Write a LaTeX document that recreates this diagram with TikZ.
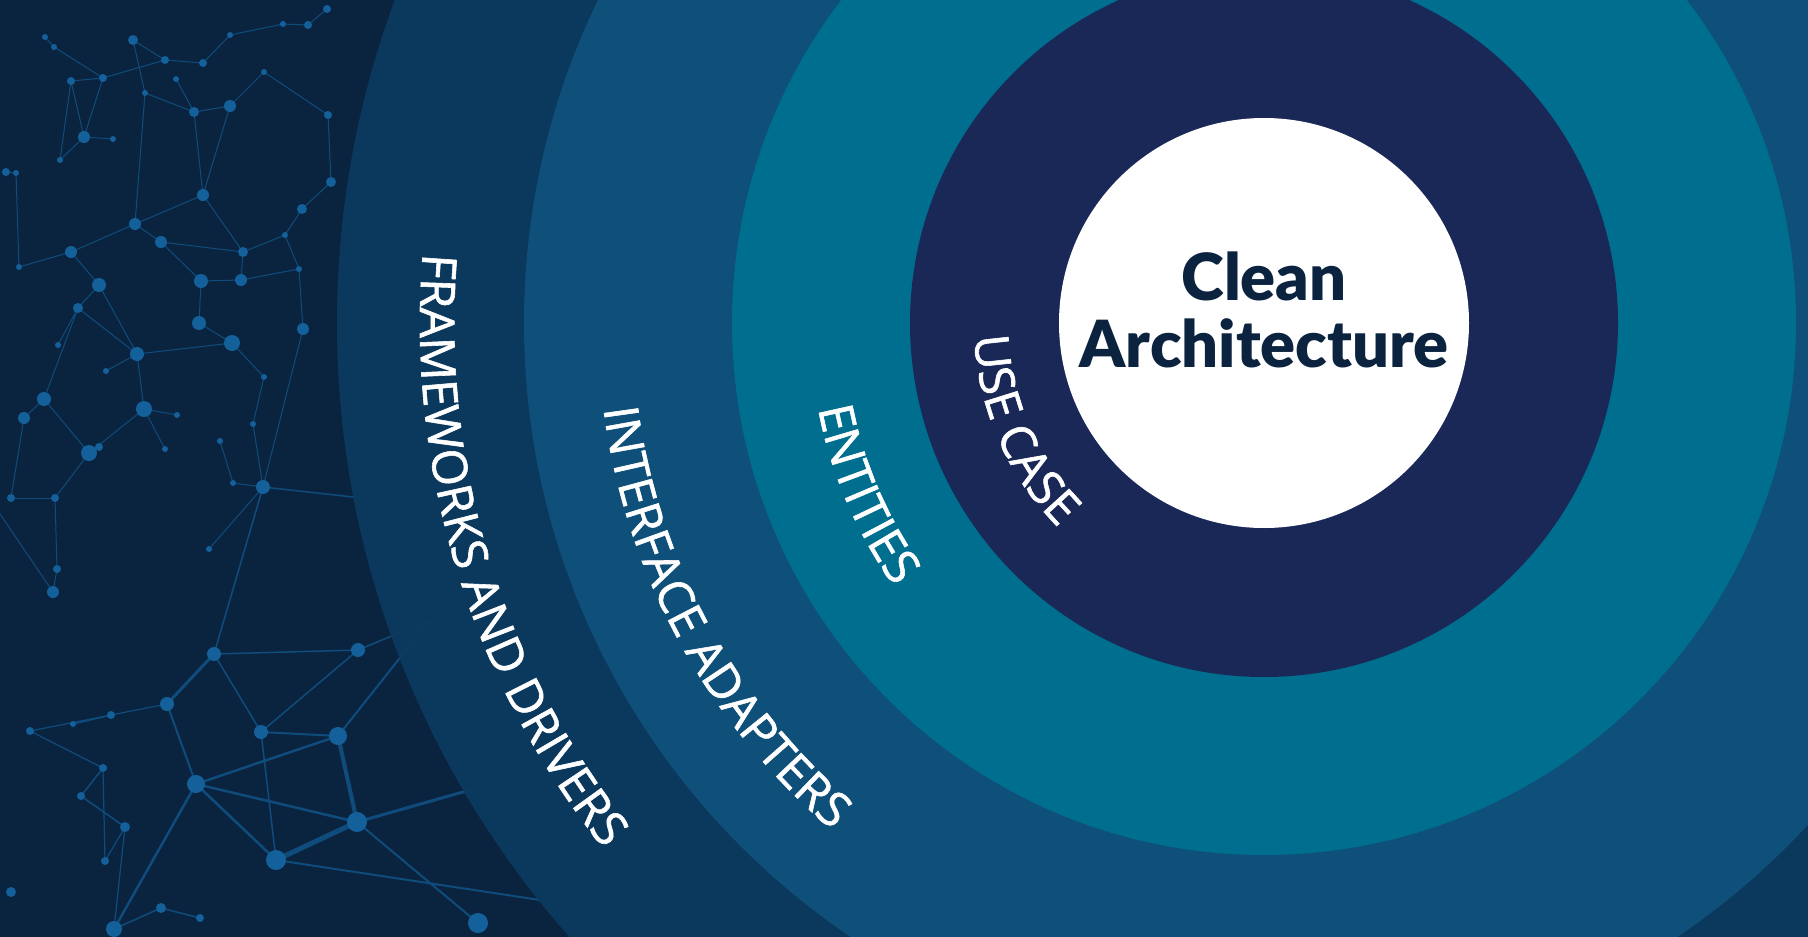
\documentclass[tikz,border=0pt]{standalone}
\usepackage{fontspec}
\usetikzlibrary{decorations.text,calc}
\newfontfamily\opensans{Open Sans}[FakeBold=1.2]
\newfontfamily\titlefont{Lato Black}
\definecolor{bgcol}{HTML}{0A2440}
\definecolor{ringfour}{HTML}{0C3A5F}
\definecolor{ringthree}{HTML}{0E5079}
\definecolor{ringtwo}{HTML}{006E8F}
\definecolor{ringone}{HTML}{1A2858}
\definecolor{titlecol}{HTML}{0C2340}
\definecolor{netcol}{HTML}{0F4C7C}
\definecolor{dotcol}{HTML}{13609A}
\tikzset{
  netline/.style={draw=netcol, line width=#1},
  netline/.default=1,
  netdot/.style={fill=dotcol},
  titletext/.style={font=\titlefont\fontsize{65}{65}\selectfont, text=titlecol, inner sep=0pt},
  ringlabel/.style={decorate, decoration={text along path, text align=center,
      text={|\opensans\fontsize{48}{48}\selectfont\color{white}|#1}}}
}
\begin{document}
\begin{tikzpicture}[x=1pt,y=1pt]
\useasboundingbox (0,0) rectangle (1808,-937);
\begin{scope}
\clip (0,0) rectangle (1808,-937);
\fill[bgcol] (0,0) rectangle (1808,-937);
% network coordinates
\foreach \n/\x/\y in {1/45/37, 2/133/40, 3/54/47, 4/230/35, 5/283/24, 6/308/25, 7/327/9,
  8/165/60, 9/176/79, 10/203/63, 11/71/81, 12/103/78, 13/145/93, 14/194/112, 15/230/106,
  16/264/72, 17/328/115, 18/84/137, 19/113/139, 20/6/172, 21/16/173, 22/60/160, 23/203/195,
  24/331/182, 25/302/209, 26/135/224, 27/161/242, 28/71/252, 29/243/252, 30/285/235,
  31/19/267, 32/99/285, 33/201/281, 34/241/280, 35/299/269, 36/78/308, 37/199/323,
  38/232/343, 39/303/329, 40/137/354, 41/58/345, 42/106/371, 43/44/399, 44/24/418,
  45/144/409, 46/177/415, 47/253/424, 48/89/453, 49/99/447, 50/165/449, 51/220/441,
  52/264/377, 53/263/487, 54/11/498, 55/55/498, 56/57/569, 57/53/592, 58/233/483,
  59/209/549, 60/214/654, 61/167/704, 62/261/732, 63/358/650, 64/338/736, 65/196/784,
  66/357/822, 67/276/860, 68/478/923, 69/114/929, 70/103/768, 71/81/796, 72/125/827,
  73/105/861, 74/30/731, 75/73/724, 76/111/715, 77/11/892, 78/161/908, 79/200/918,
  80/0/514, 81/470/790, 82/430/620, 83/380/500, 84/540/900}
  \coordinate (n\n) at (\x,-\y);
\foreach \a/\b in {1/3, 3/12, 12/8, 8/10, 10/4, 4/5, 5/6, 6/7, 2/8, 2/13, 11/12, 11/18,
  18/12, 13/14, 14/15, 15/16, 16/17, 14/23, 15/23, 17/24, 24/25, 25/30, 23/26, 23/29,
  26/27, 26/28, 28/32, 27/33, 27/29, 28/31, 31/21, 20/21, 22/18, 32/36, 33/37, 33/34,
  34/29, 37/38, 38/40, 40/36, 40/45, 45/48, 48/43, 43/44, 43/36, 45/50, 38/52, 52/47,
  47/53, 53/58, 58/51, 48/55, 55/56, 56/57, 54/55, 53/39, 39/35, 35/30, 34/35, 32/40,
  41/36, 42/40, 46/45, 9/14, 19/18, 13/26, 22/11, 29/30, 44/54, 57/80, 59/53, 48/49}
  \draw[netline=1] (n\a) -- (n\b);
\foreach \a/\b/\w in {53/60/1.5, 60/61/3, 60/62/1.5, 60/63/1.5, 62/64/2, 64/65/2.5,
  65/61/2, 65/67/2.5, 64/66/4, 66/67/5, 65/69/2.5, 66/68/2, 70/71/1.5, 70/73/1.2,
  71/72/1.5, 72/73/1.2, 75/76/1.5, 74/70/1.2, 65/66/2.5, 62/63/1.5, 66/81/3, 64/82/2,
  63/82/1.5, 53/83/1.5, 67/84/2, 69/78/1.5, 78/79/1.5, 72/69/1.2, 62/67/1.5, 61/74/1.2}
  \draw[netline=\w] (n\a) -- (n\b);
\foreach \n/\r in {1/3, 2/5, 3/3, 4/3, 5/3, 6/4, 7/4, 8/4, 9/3, 10/4, 11/4, 12/4, 13/3,
  14/5, 15/6, 16/3, 17/4, 18/6, 19/3, 20/4, 21/3, 22/3, 23/6, 24/5, 25/5, 26/6, 27/6,
  28/6, 29/5, 30/3, 31/3, 32/7, 33/7, 34/6, 35/3, 36/5, 37/7, 38/8, 39/6, 40/7, 41/3,
  42/3, 43/7, 44/6, 45/8, 46/3, 47/3, 48/8, 49/4, 50/3, 51/3, 52/3, 53/7, 54/4, 55/4,
  56/4, 57/6, 58/3, 59/3, 60/7, 61/7, 62/7, 63/7, 64/9, 65/9, 66/10, 67/10, 68/10,
  69/8, 70/4, 71/4, 72/5, 73/4, 74/4, 75/3, 76/4, 77/5, 78/5, 79/4}
  \fill[netdot] (n\n) circle (\r);
% rings
\coordinate (C) at (1264,-323);
\fill[ringfour, opacity=0.95] (C) circle (927);
\fill[ringthree] (C) circle (740);
\fill[ringtwo] (C) circle (532);
\fill[ringone] (C) circle (354);
\fill[white] (C) circle (205);
\end{scope}
% ring labels (text along arcs)
\path[ringlabel={FRAMEWORKS AND DRIVERS}] ($(C)+(166.9:844)$) arc[start angle=166.9, end angle=226.9, radius=844];
\path[ringlabel={INTERFACE ADAPTERS}] ($(C)+(173.5:666)$) arc[start angle=173.5, end angle=243.5, radius=666];
\path[ringlabel={ENTITIES}] ($(C)+(173.2:454)$) arc[start angle=173.2, end angle=233.2, radius=454];
\path[ringlabel={USE CASE}] ($(C)+(163.8:290)$) arc[start angle=163.8, end angle=243.8, radius=290];
% title
\node[titletext, anchor=base] (title1) at (1264,-300) {Clean};
\node[titletext, anchor=base] (title2) at (1264,-367) {Architecture};
\end{tikzpicture}
\end{document}
